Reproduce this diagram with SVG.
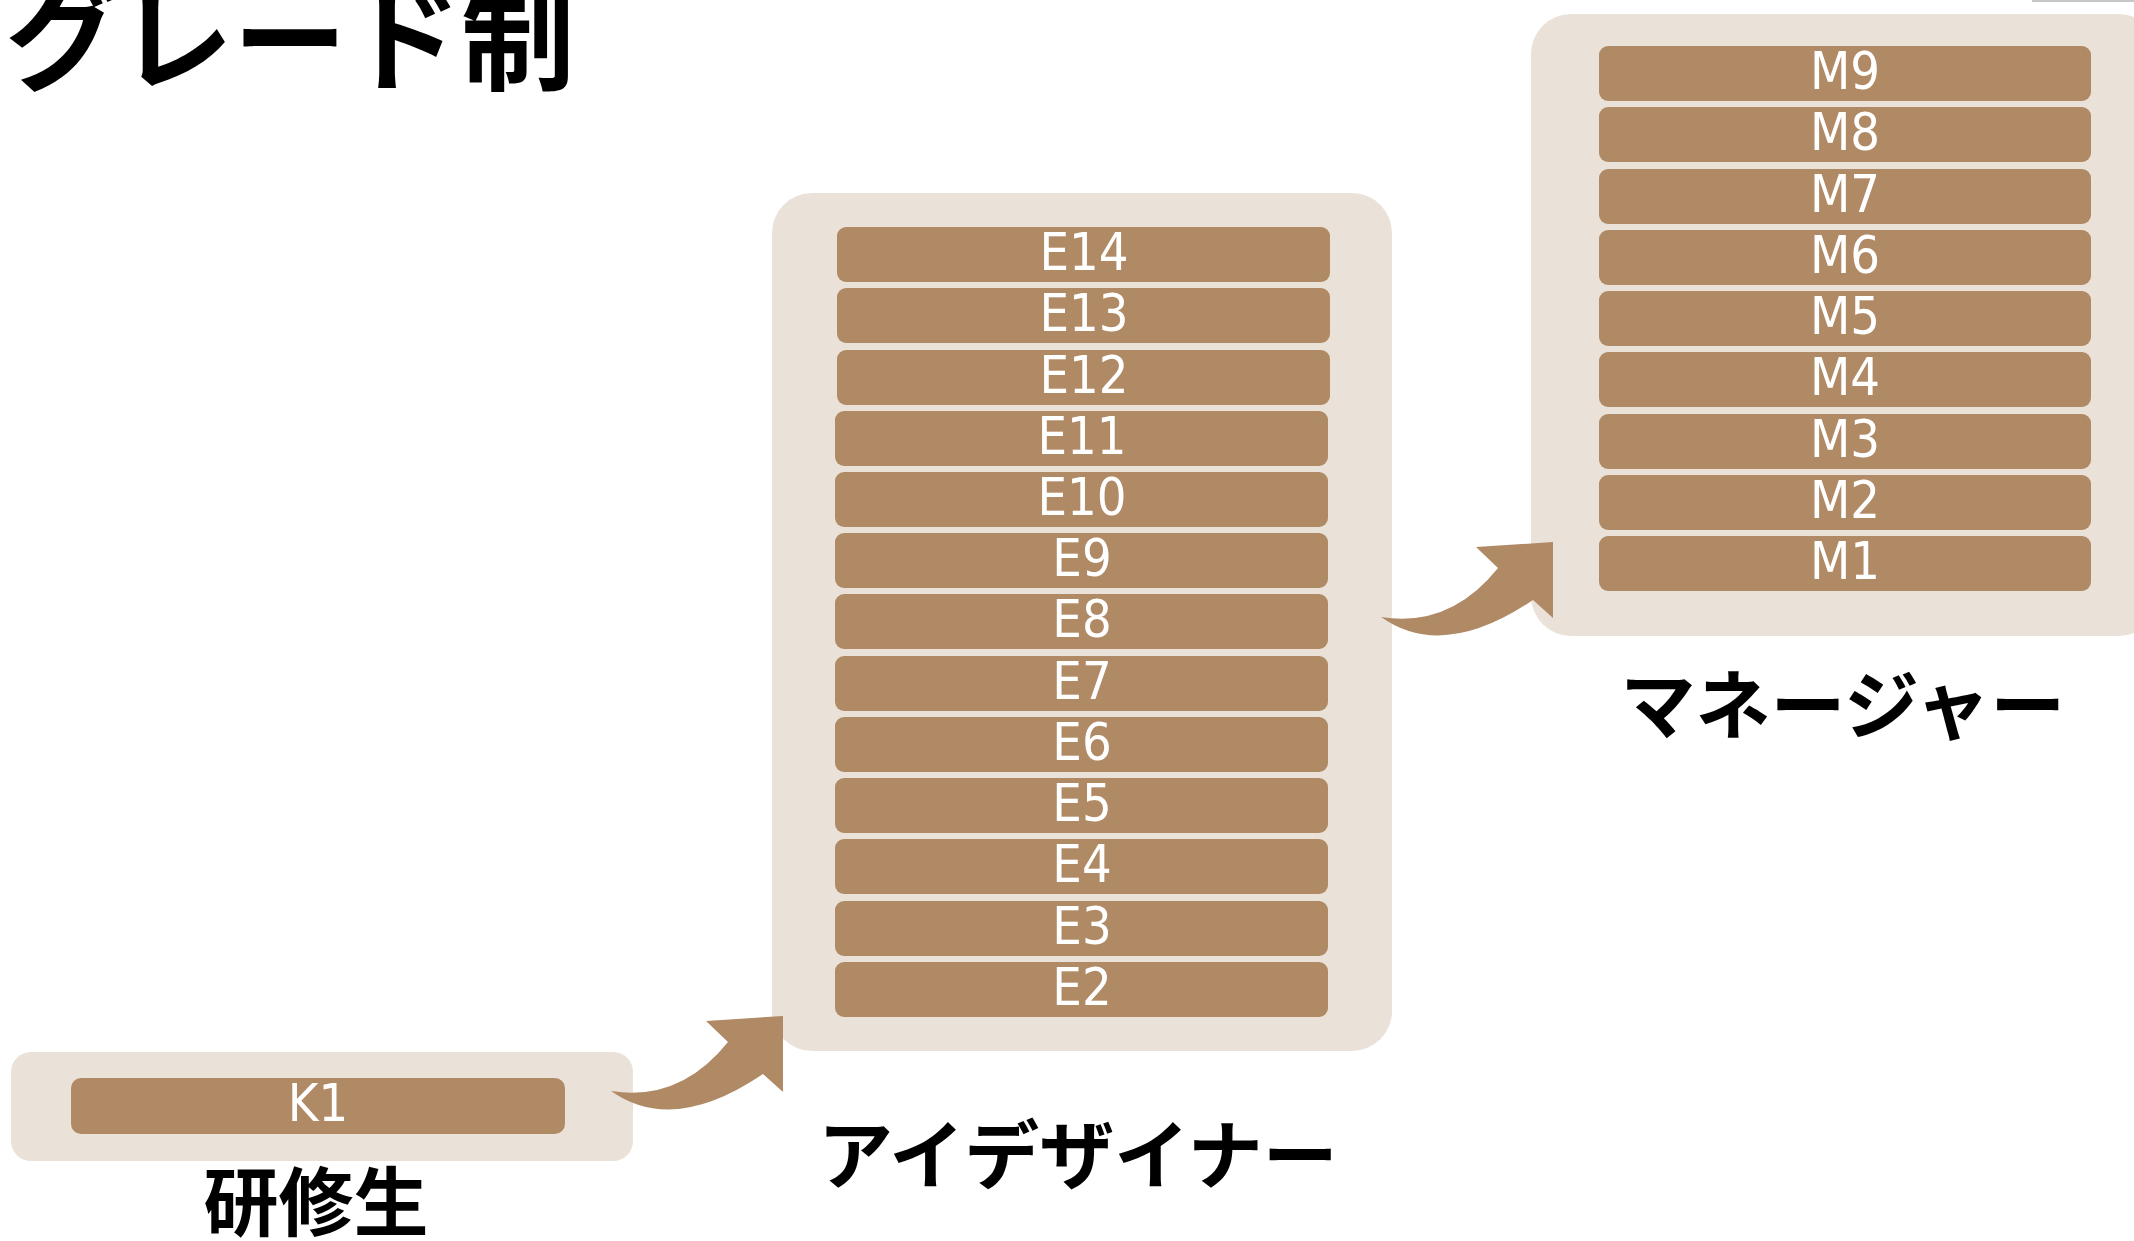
<svg xmlns="http://www.w3.org/2000/svg" width="2134" height="1241" viewBox="0 0 2134 1241">
<style>
.panel{fill:#EAE2D9}
.bar{fill:#B08965}
.lbl{fill:#FFFFFF;font-family:"Liberation Sans Narrow","DejaVu Sans Condensed","Roboto Condensed",sans-serif;font-stretch:condensed;font-size:52px;text-anchor:middle}
.jp{fill:#000;font-family:"Noto Sans CJK JP",sans-serif;font-weight:700;text-anchor:middle}
.arrow{fill:#B08965}
</style>
<rect width="2134" height="1241" fill="#FFFFFF"/>
<line x1="2032" y1="1" x2="2134" y2="1" stroke="#C8C8C8" stroke-width="2"/>
<text id="title" x="5" y="81" class="jp" style="text-anchor:start;font-size:114px">グレード制</text>

<g id="trainee">
  <rect class="panel" x="11" y="1052" width="622" height="109" rx="20"/>
  <g id="K1"><rect class="bar" x="71" y="1078" width="494" height="56" rx="10"/><text class="lbl" x="318" y="1121">K1</text></g>
  <text class="jp" x="316" y="1230" style="font-size:75px">研修生</text>
</g>

<g id="designer">
  <rect class="panel" x="772" y="193" width="620" height="858" rx="40"/>
  <g id="E14"><rect class="bar" x="837" y="227" width="493" height="55" rx="9"/><text class="lbl" x="1084" y="270">E14</text></g>
  <g id="E13"><rect class="bar" x="837" y="288" width="493" height="55" rx="9"/><text class="lbl" x="1084" y="331">E13</text></g>
  <g id="E12"><rect class="bar" x="837" y="350" width="493" height="55" rx="9"/><text class="lbl" x="1084" y="393">E12</text></g>
  <g id="E11"><rect class="bar" x="835" y="411" width="493" height="55" rx="9"/><text class="lbl" x="1082" y="454">E11</text></g>
  <g id="E10"><rect class="bar" x="835" y="472" width="493" height="55" rx="9"/><text class="lbl" x="1082" y="515">E10</text></g>
  <g id="E9"><rect class="bar" x="835" y="533" width="493" height="55" rx="9"/><text class="lbl" x="1082" y="576">E9</text></g>
  <g id="E8"><rect class="bar" x="835" y="594" width="493" height="55" rx="9"/><text class="lbl" x="1082" y="637">E8</text></g>
  <g id="E7"><rect class="bar" x="835" y="656" width="493" height="55" rx="9"/><text class="lbl" x="1082" y="699">E7</text></g>
  <g id="E6"><rect class="bar" x="835" y="717" width="493" height="55" rx="9"/><text class="lbl" x="1082" y="760">E6</text></g>
  <g id="E5"><rect class="bar" x="835" y="778" width="493" height="55" rx="9"/><text class="lbl" x="1082" y="821">E5</text></g>
  <g id="E4"><rect class="bar" x="835" y="839" width="493" height="55" rx="9"/><text class="lbl" x="1082" y="882">E4</text></g>
  <g id="E3"><rect class="bar" x="835" y="901" width="493" height="55" rx="9"/><text class="lbl" x="1082" y="944">E3</text></g>
  <g id="E2"><rect class="bar" x="835" y="962" width="493" height="55" rx="9"/><text class="lbl" x="1082" y="1005">E2</text></g>
  <text class="jp" x="1078" y="1183" style="font-size:75px">アイデザイナー</text>
</g>

<g id="manager">
  <rect class="panel" x="1531" y="14" width="628" height="622" rx="40"/>
  <g id="M9"><rect class="bar" x="1599" y="46" width="492" height="55" rx="9"/><text class="lbl" x="1845" y="89">M9</text></g>
  <g id="M8"><rect class="bar" x="1599" y="107" width="492" height="55" rx="9"/><text class="lbl" x="1845" y="150">M8</text></g>
  <g id="M7"><rect class="bar" x="1599" y="169" width="492" height="55" rx="9"/><text class="lbl" x="1845" y="212">M7</text></g>
  <g id="M6"><rect class="bar" x="1599" y="230" width="492" height="55" rx="9"/><text class="lbl" x="1845" y="273">M6</text></g>
  <g id="M5"><rect class="bar" x="1599" y="291" width="492" height="55" rx="9"/><text class="lbl" x="1845" y="334">M5</text></g>
  <g id="M4"><rect class="bar" x="1599" y="352" width="492" height="55" rx="9"/><text class="lbl" x="1845" y="395">M4</text></g>
  <g id="M3"><rect class="bar" x="1599" y="414" width="492" height="55" rx="9"/><text class="lbl" x="1845" y="457">M3</text></g>
  <g id="M2"><rect class="bar" x="1599" y="475" width="492" height="55" rx="9"/><text class="lbl" x="1845" y="518">M2</text></g>
  <g id="M1"><rect class="bar" x="1599" y="536" width="492" height="55" rx="9"/><text class="lbl" x="1845" y="579">M1</text></g>
  <text class="jp" x="1843" y="733" style="font-size:75px">マネージャー</text>
</g>

<g id="connectors">
  <path class="arrow" d="M611,1091 Q680,1102 728,1042 L706,1021 L783,1016 L783,1092 L763,1074 Q673,1135 611,1091 Z"/>
  <path class="arrow" d="M1381,617 Q1450,628 1498,568 L1476,547 L1553,542 L1553,618 L1533,600 Q1443,661 1381,617 Z"/>
</g>
</svg>
